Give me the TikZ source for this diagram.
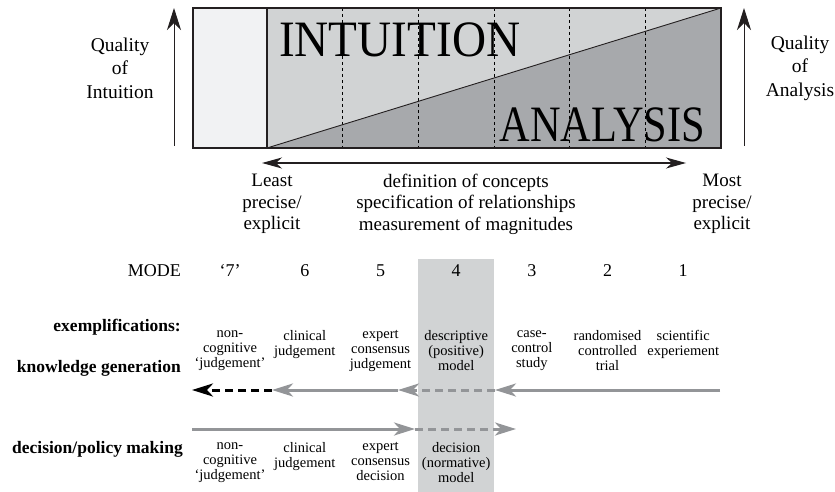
\documentclass[tikz,border=0pt]{standalone}
\usepackage{fontspec}
\setmainfont{Liberation Serif}
\usepackage{graphicx}
\usetikzlibrary{arrows.meta}

\definecolor{edgegray}{HTML}{231F20}
\definecolor{palegray}{HTML}{F1F2F3}
\definecolor{lightgray}{HTML}{D1D3D4}
\definecolor{darkgray}{HTML}{A7A9AC}
\definecolor{arrowgray}{HTML}{939598}

\tikzset{
  quality/.style={font=\fontsize{19.5}{23.5}\selectfont, align=center, inner sep=0pt},
  bigtext/.style={font=\fontsize{19}{21.5}\selectfont, align=center, inner sep=0pt},
  modetext/.style={font=\fontsize{18}{20}\selectfont, anchor=base, inner sep=0pt},
  heading/.style={font=\fontsize{17.5}{20}\selectfont\bfseries, anchor=base east, inner sep=0pt},
  example/.style={font=\fontsize{14.5}{15}\selectfont, align=center, anchor=north, inner sep=0pt, execute at begin node=\strut},
  uparrow/.style={edgegray, line width=1pt, -{Stealth[length=22pt,width=14pt,inset=7pt]}},
  spanarrow/.style={edgegray, line width=1.2pt, {Stealth[length=20pt,width=11pt,inset=6pt]}-{Stealth[length=20pt,width=11pt,inset=6pt]}},
  flow/.style={arrowgray, line width=3pt, -{Stealth[length=21pt,width=13pt,inset=6pt]}},
  flowdash/.style={flow, dash pattern=on 8pt off 5pt},
}

\begin{document}
\begin{tikzpicture}[x=1pt,y=-1pt]
\useasboundingbox (0,0) rectangle (835,492);
%\draw[step=50,gray,very thin] (0,0) grid (835,492); %background grid

% top box
\fill[palegray]  (193,8) rectangle (267,148);
\fill[lightgray] (267,8) rectangle (721,148);
\fill[darkgray]  (267,148) -- (721,8) -- (721,148) -- cycle;
\node[anchor=base west, inner sep=0pt, font=\fontsize{51}{51}\selectfont] (intuition) at (279,57) {\scalebox{0.925}[1]{INTUITION}};
\node[anchor=base east, inner sep=0pt, font=\fontsize{51}{51}\selectfont] (analysis) at (705,142) {\scalebox{0.83}[1]{ANALYSIS}};
\foreach \x in {342.7,418.3,494,569.7,645.3} \draw[dashed, line width=0.7pt] (\x,8) -- (\x,148);
\draw[edgegray, line width=0.9pt] (267,148) -- (721,8);
\draw[edgegray, line width=1.4pt] (267,8) -- (267,148);
\draw[edgegray, line width=1.4pt] (193,8) rectangle (721,148);

% quality arrows
\coordinate (qil) at (174,146); \coordinate (qih) at (174,8);
\coordinate (qal) at (744,146); \coordinate (qah) at (744,8);
\draw[uparrow] (qil) -- (qih);
\draw[uparrow] (qal) -- (qah);
\node[quality] (qualint) at (120,68) {Quality\\of\\Intuition};
\node[quality] (qualana) at (800,68) {Quality\\of\\Analysis};

% precision axis
\coordinate (precl) at (262,163); \coordinate (precr) at (686,163);
\draw[spanarrow] (precl) -- (precr);
\node[bigtext] (least) at (272,204) {Least\\precise/\\explicit};
\node[bigtext] (defs)  at (466,204) {definition of concepts\\specification of relationships\\measurement of magnitudes};
\node[bigtext] (most)  at (722,204) {Most\\precise/\\explicit};

% mode 4 band
\fill[lightgray] (418.3,259) rectangle (494,492);

% modes
\node[modetext, anchor=base east] (mode) at (181,276) {MODE};
\node[modetext] (m7) at (230,276)   {‘7’}; %7
\node[modetext] (m6) at (304.8,276) {6}; %6
\node[modetext] (m5) at (380.5,276) {5}; %5
\node[modetext] (m4) at (456.2,276) {4}; %4
\node[modetext] (m3) at (531.8,276) {3}; %3
\node[modetext] (m2) at (607.5,276) {2}; %2
\node[modetext] (m1) at (683.2,276) {1}; %1

% row labels
\node[heading] (exempl)  at (181,331) {exemplifications:};
\node[heading] (knowgen) at (181,372) {knowledge generation};
\node[heading] (decpol)  at (183,453) {decision/policy making};

% knowledge generation examples
\node[example] (k7) at (230,330.5)   {non-\\cognitive\\‘judgement’};
\node[example] (k6) at (304.8,330.5) {clinical\\judgement};
\node[example] (k5) at (380.5,330.5) {expert\\consensus\\judgement};
\node[example] (k4) at (456.2,330.5) {descriptive\\(positive)\\model};
\node[example] (k3) at (531.8,330.5) {case-\\control\\study};
\node[example] (k2) at (607.5,330.5) {randomised\\controlled\\trial};
\node[example] (k1) at (683.2,330.5) {scientific\\experiement};

% knowledge generation arrows
\coordinate (ka) at (720,390); \coordinate (kb) at (495,390);
\coordinate (kc) at (398,390); \coordinate (kd) at (272,390);
\coordinate (ke) at (192,390);
\draw[flow] (ka) -- (kb);
\draw[flowdash] (kb) -- (kc);
\draw[flow] (kc) -- (kd);
\draw[flowdash, black] (kd) -- (ke);

% decision/policy arrows
\coordinate (da) at (192,429); \coordinate (db) at (415,429);
\coordinate (dc) at (516,429);
\draw[flow] (da) -- (db);
\draw[flowdash] (db) -- (dc);

% decision/policy examples
\node[example] (d7) at (230,442.5)   {non-\\cognitive\\‘judgement’};
\node[example] (d6) at (304.8,442.5) {clinical\\judgement};
\node[example] (d5) at (380.5,442.5) {expert\\consensus\\decision};
\node[example] (d4) at (456.2,442.5) {decision\\(normative)\\model};
\end{tikzpicture}
\end{document}
